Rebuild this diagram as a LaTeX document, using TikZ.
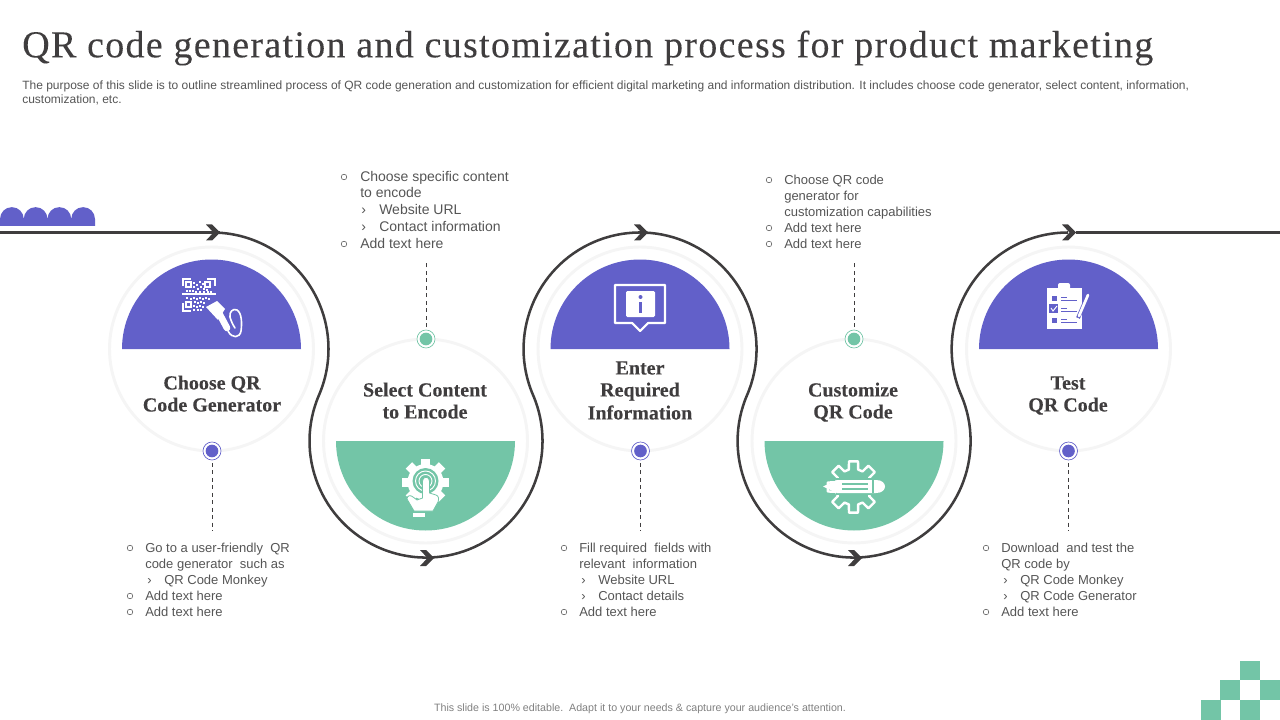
\documentclass[tikz,border=0pt]{standalone}
\usepackage{fontspec}
\setmainfont{Liberation Sans}
\newfontfamily\serifhead[BoldFeatures={FakeBold=0.2}]{Liberation Serif}
\newfontfamily\seriftitle[LetterSpace=3.4,FakeBold=0.12]{Liberation Serif}
\usepackage{tikz}
\usetikzlibrary{arrows,positioning,shapes.geometric}
\pgfdeclarelayer{edgelayer}
\pgfdeclarelayer{nodelayer}
\pgfsetlayers{edgelayer,nodelayer,main}
\definecolor{lpurple}{HTML}{6260C9}
\definecolor{lgreen}{HTML}{73C5A7}
\definecolor{ldark}{HTML}{3F3D3E}
\definecolor{ltext}{HTML}{555555}
\definecolor{lring}{HTML}{F5F5F5}
\tikzstyle{none}=[inner sep=0pt]
\tikzstyle{title}=[inner sep=0pt,anchor=west,text=ldark,font=\fontsize{28.5}{32}\selectfont\seriftitle]
\tikzstyle{blurb}=[inner sep=0pt,anchor=west,text=ltext,font=\fontsize{9}{11}\selectfont]
\tikzstyle{foot}=[inner sep=0pt,text=gray,font=\fontsize{8}{10}\selectfont]
\tikzstyle{stepring}=[circle,fill=white,draw=lring,line width=2.2pt,minimum size=153pt,inner sep=0pt]
\tikzstyle{head}=[inner sep=0pt,text=ldark,text height=11.2pt,text depth=0pt,font=\fontsize{15}{17}\selectfont\bfseries\serifhead]
\tikzstyle{body}=[inner sep=0pt,anchor=west,text=ltext,text height=8.5pt,text depth=0pt,font=\fontsize{9.75}{12}\selectfont]
\tikzstyle{bodybig}=[style=body,font=\fontsize{10.5}{12}\selectfont]
\tikzstyle{bullet}=[circle,draw=ltext,line width=0.4pt,fill=white,minimum size=4.2pt,inner sep=0pt]
\tikzstyle{pdot}=[circle,fill=white,draw=lpurple,line width=0.5pt,minimum size=13.5pt,inner sep=0pt]
\tikzstyle{gdot}=[circle,fill=white,draw=lgreen,line width=0.5pt,minimum size=13.5pt,inner sep=0pt]
\tikzstyle{pcore}=[circle,fill=lpurple,minimum size=9.5pt,inner sep=0pt]
\tikzstyle{gcore}=[circle,fill=lgreen,minimum size=9.5pt,inner sep=0pt]
\tikzstyle{leader}=[-,draw=ldark,line width=0.5pt,dash pattern=on 3pt off 2.6pt]
\tikzstyle{snake}=[-,draw=ldark,line width=1.9pt]
\tikzstyle{thick line}=[-,draw=ldark,line width=2.7pt]
\tikzstyle{chevron}=[fill=ldark,draw=none]
\tikzstyle{wline}=[-,draw=white,line width=1.5pt]
\newcommand{\chevronat}[1]{\fill [style=chevron] ([shift={(-14,-8)}]#1.center) -- ([shift={(-8,-8)}]#1.center) -- (#1.center) -- ([shift={(-8,8)}]#1.center) -- ([shift={(-14,8)}]#1.center) -- ([shift={(-6.5,0)}]#1.center) -- cycle;}
\begin{document}
\begin{tikzpicture}[x=0.75pt,y=-0.75pt]
	\useasboundingbox (0,0) rectangle (1280,720);
	\begin{pgfonlayer}{edgelayer}
		\node [style=none] (LineStart) at (0,232.5) {};
		\node [style=none] (LineEnd) at (1280,232.5) {};
		\node [style=none] (Tip1) at (220,232.5) {};
		\node [style=none] (Tip2) at (434,558) {};
		\node [style=none] (Tip3) at (648,232.5) {};
		\node [style=none] (Tip4) at (862,558) {};
		\node [style=none] (Tip5) at (1076,232.5) {};
		\draw [style=snake] (212,232.5) arc [start angle=-90,end angle=23.27,radius=116.5]
			arc [start angle=203.27,end angle=-23.27,radius=116.5]
			arc [start angle=156.73,end angle=383.27,radius=116.5]
			arc [start angle=203.27,end angle=-23.27,radius=116.5]
			arc [start angle=156.73,end angle=270,radius=116.5];
		\draw [style=thick line] (LineStart.center) to (Tip1.center);
		\draw [style=thick line] (Tip5.center) to (LineEnd.center);
		\chevronat{Tip1}
		\chevronat{Tip2}
		\chevronat{Tip3}
		\chevronat{Tip4}
		\chevronat{Tip5}
		% scallops
		\fill [lpurple] (0,226) -- (0,219) arc [start angle=180,end angle=360,radius=11.875]
			arc [start angle=180,end angle=360,radius=11.875]
			arc [start angle=180,end angle=360,radius=11.875]
			arc [start angle=180,end angle=360,radius=11.875] -- (95,226) -- cycle;
		% squares
		\fill [lgreen] (1240,661) rectangle (1260,680);
		\fill [lgreen] (1220,680) rectangle (1240,700);
		\fill [lgreen] (1260,680) rectangle (1280,700);
		\fill [lgreen] (1201,700) rectangle (1221,720);
		\fill [lgreen] (1240,700) rectangle (1260,720);
	\end{pgfonlayer}
	\begin{pgfonlayer}{nodelayer}
		\node [style=title] (Title) at (22,48) {QR code generation and customization process for product marketing};
		\node [style=blurb] (Blurb1) at (22,86) {The purpose of this slide is to outline streamlined process of QR code generation and customization for efficient digital marketing and information distribution. It includes choose code generator, select content, information,};
		\node [style=blurb] (Blurb2) at (22,100) {customization, etc.};
		\node [style=foot] (Foot) at (640,708.5) {This slide is 100\% editable.\ \ Adapt it to your needs \& capture your audience's attention.};
		\node [style=stepring] (Step1) at (211.5,349) {};
		\node [style=stepring] (Step2) at (425.5,441) {};
		\node [style=stepring] (Step3) at (640,349) {};
		\node [style=stepring] (Step4) at (854,441) {};
		\node [style=stepring] (Step5) at (1068.5,349) {};
		\node [style=pdot] (Dot1) at (212,451) {};
		\node [style=gdot] (Dot2) at (426,339) {};
		\node [style=pdot] (Dot3) at (640.5,451) {};
		\node [style=gdot] (Dot4) at (854,339) {};
		\node [style=pdot] (Dot5) at (1068.5,451) {};
		\node [style=pcore] (Core1) at (Dot1) {};
		\node [style=gcore] (Core2) at (Dot2) {};
		\node [style=pcore] (Core3) at (Dot3) {};
		\node [style=gcore] (Core4) at (Dot4) {};
		\node [style=pcore] (Core5) at (Dot5) {};
		\coordinate (End1) at (212,531);
		\coordinate (End2) at (426,261);
		\coordinate (End3) at (640.5,531);
		\coordinate (End4) at (854,261);
		\coordinate (End5) at (1068.5,531);
		\draw [style=leader, shorten <=2pt] (Dot1) to (End1);
		\draw [style=leader, shorten <=2pt] (Dot2) to (End2);
		\draw [style=leader, shorten <=2pt] (Dot3) to (End3);
		\draw [style=leader, shorten <=2pt] (Dot4) to (End4);
		\draw [style=leader, shorten <=2pt] (Dot5) to (End5);
		\node [style=head] (H1a) at (212,382) {Choose QR};
		\node [style=head] (H1b) at (212,404) {Code Generator};
		\node [style=head] (H2a) at (425,389) {Select Content};
		\node [style=head] (H2b) at (425,411) {to Encode};
		\node [style=head] (H3a) at (640,367) {Enter};
		\node [style=head] (H3b) at (640,389) {Required};
		\node [style=head] (H3c) at (640,412) {Information};
		\node [style=head] (H4a) at (853,389) {Customize};
		\node [style=head] (H4b) at (853,411) {QR Code};
		\node [style=head] (H5a) at (1068,382) {Test};
		\node [style=head] (H5b) at (1068,404) {QR Code};
		% list one
		\node [style=bullet] (B1a) at (130,548) {};
		\node [style=body] (T1a) at (145,547) {Go to a user-friendly\ \ QR};
		\node [style=body] (T1b) at (145,563) {code generator\ \ such as};
		\node [style=body] (M1c) at (147,579) {›};
		\node [style=body] (T1c) at (164,579) {QR Code Monkey};
		\node [style=bullet] (B1d) at (130,596) {};
		\node [style=body] (T1d) at (145,595) {Add text here};
		\node [style=bullet] (B1e) at (130,612) {};
		\node [style=body] (T1e) at (145,611) {Add text here};
		% list two
		\node [style=bullet] (B2a) at (344,177) {};
		\node [style=bodybig] (T2a) at (360,176) {Choose specific content};
		\node [style=bodybig] (T2b) at (360,192) {to encode};
		\node [style=bodybig] (M2c) at (361,209) {›};
		\node [style=bodybig] (T2c) at (379,209) {Website URL};
		\node [style=bodybig] (M2d) at (361,226) {›};
		\node [style=bodybig] (T2d) at (379,226) {Contact information};
		\node [style=bullet] (B2e) at (344,244) {};
		\node [style=bodybig] (T2e) at (360,243) {Add text here};
		% list three
		\node [style=bullet] (B3a) at (564,548) {};
		\node [style=body] (T3a) at (579,547) {Fill required\ \ fields with};
		\node [style=body] (T3b) at (579,563) {relevant\ \ information};
		\node [style=body] (M3c) at (581,579) {›};
		\node [style=body] (T3c) at (598,579) {Website URL};
		\node [style=body] (M3d) at (581,595) {›};
		\node [style=body] (T3d) at (598,595) {Contact details};
		\node [style=bullet] (B3e) at (564,612) {};
		\node [style=body] (T3e) at (579,611) {Add text here};
		% list four
		\node [style=bullet] (B4a) at (769,180) {};
		\node [style=body] (T4a) at (784,179) {Choose QR code};
		\node [style=body] (T4b) at (784,195) {generator\ for};
		\node [style=body] (T4c) at (784,211) {customization capabilities};
		\node [style=bullet] (B4d) at (769,228) {};
		\node [style=body] (T4d) at (784,227) {Add text here};
		\node [style=bullet] (B4e) at (769,244) {};
		\node [style=body] (T4e) at (784,243) {Add text here};
		% list five
		\node [style=bullet] (B5a) at (986,548) {};
		\node [style=body] (T5a) at (1001,547) {Download\ \ and test the};
		\node [style=body] (T5b) at (1001,563) {QR code by};
		\node [style=body] (M5c) at (1003,579) {›};
		\node [style=body] (T5c) at (1020,579) {QR Code Monkey};
		\node [style=body] (M5d) at (1003,595) {›};
		\node [style=body] (T5d) at (1020,595) {QR Code Generator};
		\node [style=bullet] (B5e) at (986,612) {};
		\node [style=body] (T5e) at (1001,611) {Add text here};
	\end{pgfonlayer}
	% half discs
	\fill [lpurple] (122,349) arc [start angle=180,end angle=360,radius=89.5] -- cycle;
	\fill [lgreen] (336,441) arc [start angle=180,end angle=0,radius=89.5] -- cycle;
	\fill [lpurple] (550.5,349) arc [start angle=180,end angle=360,radius=89.5] -- cycle;
	\fill [lgreen] (764.5,441) arc [start angle=180,end angle=0,radius=89.5] -- cycle;
	\fill [lpurple] (979,349) arc [start angle=180,end angle=360,radius=89.5] -- cycle;
	% qr icon
	\draw [style=wline] (183,286) -- (183,279) -- (191,279);
	\draw [style=wline] (207,279) -- (215,279) -- (215,286);
	\draw [style=wline] (183,303) -- (183,311) -- (191,311);
	\draw [style=wline] (182,294) -- (216,294);
	\draw [white,line width=0.8pt] (186,282) rectangle (191,287);
	\draw [white,line width=0.8pt] (205,282) rectangle (210,287);
	\draw [white,line width=0.8pt] (186,302) rectangle (191,307);
	\foreach \x/\y in {193/282,196/284,199/281,202/283,193/286,197/288,200/286,203/288,206/289,186/290,189/290,192/290,195/291,199/291,203/291,207/291,210/291,186/297,190/298,193/297,196/298,199/297,202/298,205/297,208/298,194/301,197/302,200/301,203/302,193/305,196/306,199/305,202/306,193/309,197/309,200/309}
		\fill [white] (\x,\y) rectangle +(2.2,2);
	\fill [white] (206,307) -- (217,301) -- (225,309) -- (218,320) -- cycle;
	\draw [white,line width=5pt,line cap=round] (219,313) -- (227,328);
	\draw [white,line width=1.2pt,line cap=round] (228,331) .. controls (232,339) and (240,338) .. (241,331) .. controls (242,324) and (242,313) .. (237,310) .. controls (233,308) and (229,312) .. (230,317) .. controls (231,321) and (233,325) .. (235,328);
	% gear and hand icon
	\fill [white] (425.5,482) circle (18);
	\foreach \a in {0,45,...,315}
		\fill [white,rotate around={\a:(425.5,482)}] (421,458.5) rectangle (430,468);
	\fill [lgreen] (425.5,481) circle (13);
	\draw [white,line width=0.7pt] (425.5,481) circle (10);
	\draw [white,line width=0.7pt] (425.5,481) circle (6.5);
	\fill [white,draw=lgreen,line width=0.6pt] (422.5,481) .. controls (422.5,476) and (429.5,476) .. (429.5,481) -- (429.5,493) -- (436,495) .. controls (439,496) and (439,499) .. (438,502) -- (433,511) -- (414,511) -- (407,499) .. controls (407,495) and (411,495) .. (413,497) -- (417,500) -- (422.5,498) -- cycle;
	\fill [white] (413,512.5) rectangle (425,517);
	% speech bubble icon
	\draw [white,line width=1.6pt,line join=round] (615,285) -- (665,285) -- (665,323) -- (648,323) -- (640,331) -- (632,323) -- (615,323) -- cycle;
	\fill [white,rounded corners=1pt] (626,291) rectangle (655,317);
	\fill [lpurple] (640.5,297) circle (2);
	\fill [lpurple] (639,302) rectangle (642,313);
	% gear and pencil icon
	\draw [white,line width=1.8pt,line join=round,shift={(853.5,487)}] (-10:26)
		foreach \a in {0,45,...,315} { -- (\a-10:26) -- (\a+10:26) -- (\a+15:18) -- (\a+30:18) } -- cycle;
	\fill [lgreen] (836,478) rectangle (880,495);
	\fill [white] (823,486.5) -- (837,480) -- (876,480) .. controls (888,480) and (888,493) .. (876,493) -- (837,493) -- cycle;
	\draw [lgreen,line width=0.8pt] (842,484) -- (868,484);
	\draw [lgreen,line width=0.8pt] (842,489) -- (868,489);
	\draw [lgreen,line width=0.8pt] (873,480) -- (873,493);
	% clipboard icon
	\fill [white] (1047,288) rectangle (1082,329);
	\fill [white,rounded corners=1.5pt] (1058,283) rectangle (1070,290);
	\fill [lpurple] (1052,296) rectangle (1057,301);
	\fill [lpurple] (1049,304) rectangle (1058,313);
	\fill [lpurple] (1052,318) rectangle (1057,323);
	\draw [white,line width=0.7pt] (1051,308) -- (1053,311) -- (1057,306);
	\draw [lpurple,line width=0.5pt] (1061,297) -- (1067,297) (1061,300) -- (1077,300);
	\draw [lpurple,line width=0.5pt] (1061,308) -- (1067,308) (1061,311) -- (1077,311);
	\draw [lpurple,line width=0.5pt] (1061,319) -- (1067,319) (1061,322) -- (1077,322);
	\draw [lpurple,line width=3pt] (1088,295) -- (1078,318);
	\draw [white,line width=2pt,line cap=round] (1088,295) -- (1079,316);
	\draw [white,line width=0.7pt] (1078,318) -- (1077,321);
\end{tikzpicture}
\end{document}
